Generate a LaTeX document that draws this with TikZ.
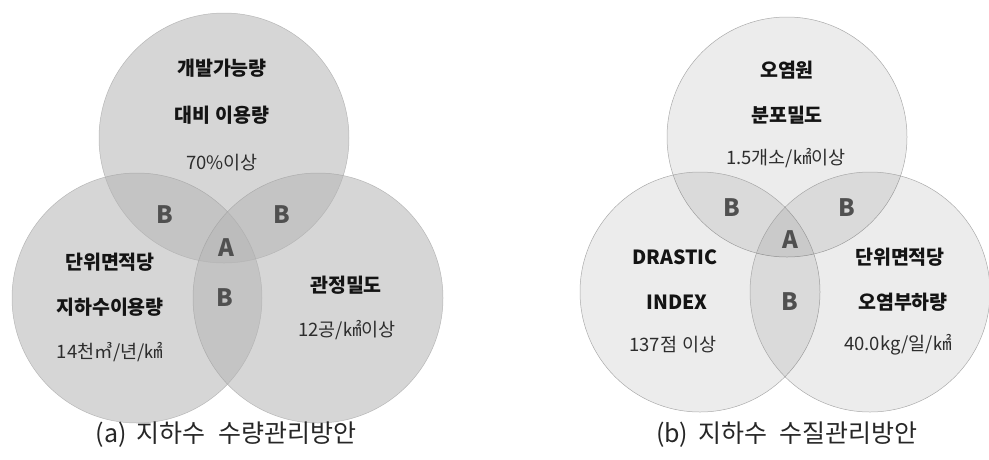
\documentclass[tikz,border=0pt]{standalone}
\usepackage{fontspec}
\setmainfont{Noto Sans CJK KR}
\definecolor{vnfill}{gray}{0.71}
\definecolor{vnline}{gray}{0.60}
\definecolor{zonegray}{RGB}{80,80,80}
\definecolor{txtgray}{RGB}{45,45,45}
\usetikzlibrary{positioning}

\begin{document}
\begin{tikzpicture}[x=1pt,y=-1pt,
  qcircle/.style={circle, minimum size=250pt, inner sep=0pt, fill=vnfill, fill opacity=0.55, draw=vnline, draw opacity=0.6, line width=0.5pt},
  wcircle/.style={circle, minimum size=240pt, inner sep=0pt, fill=black, fill opacity=0.075, draw=black!40, draw opacity=0.8, line width=0.5pt},
  head/.style={font=\fontsize{19.5}{22}\selectfont\bfseries, text=black!92},
  val/.style={font=\fontsize{18.5}{21}\selectfont, text=txtgray},
  zone/.style={font=\fontsize{24}{26}\selectfont\bfseries, text=zonegray},
  captext/.style={font=\fontsize{25}{28}\selectfont, text=black!85}]
  \useasboundingbox (0,0) rectangle (989,459);

  % (a) quantity circles
  \node[qcircle] (qtop) at (224,138) {};
  \node[qcircle] (qleft) at (137,298) {};
  \node[qcircle] (qright) at (318,298) {};

  % (a) labels
  \node[head] (qtop1) at (222,68) {개발가능량};
  \node[head] (qtop2) at (222,115) {대비 이용량};
  \node[val] (qtop3) at (222,163) {70\%이상};
  \node[head] (qleft1) at (110,262) {단위면적당};
  \node[head] (qleft2) at (110,307) {지하수이용량};
  \node[val] (qleft3) at (110,352) {14천㎥/년/㎢};
  \node[head] (qright1) at (346,285) {관정밀도};
  \node[val] (qright2) at (347,330) {12공/㎢이상};

  % (a) zones
  \node[zone] (qb1) at (165,215) {B};
  \node[zone] (qb2) at (282,215) {B};
  \node[zone] (qa) at (226,248) {A};
  \node[zone] (qb3) at (225,298) {B};

  \node[captext] (qcap) at (226,435) {(a)\hspace{0.4em}지하수\hspace{0.5em}수량관리방안};

  % (b) quality circles
  \node[wcircle] (wtop) at (787,137) {};
  \node[wcircle] (wleft) at (700,292) {};
  \node[wcircle] (wright) at (870,292) {};

  % (b) labels
  \node[head] (wtop1) at (787,70) {오염원};
  \node[head] (wtop2) at (787,115) {분포밀도};
  \node[val] (wtop3) at (786,158) {1.5개소/㎢이상};
  \node[head] (wleft1) at (675,257) {DRASTIC};
  \node[head] (wleft2) at (677,302) {INDEX};
  \node[val] (wleft3) at (673,345) {137점\hspace{0.3em}이상};
  \node[head] (wright1) at (900,257) {단위면적당};
  \node[head] (wright2) at (903,302) {오염부하량};
  \node[val] (wright3) at (898,345) {40.0kg/일/㎢};

  % (b) zones
  \node[zone] (wb1) at (732,208) {B};
  \node[zone] (wb2) at (847,208) {B};
  \node[zone] (wa) at (790,240) {A};
  \node[zone] (wb3) at (790,302) {B};

  \node[captext] (wcap) at (787,435) {(b)\hspace{0.4em}지하수\hspace{0.5em}수질관리방안};
\end{tikzpicture}
\end{document}
